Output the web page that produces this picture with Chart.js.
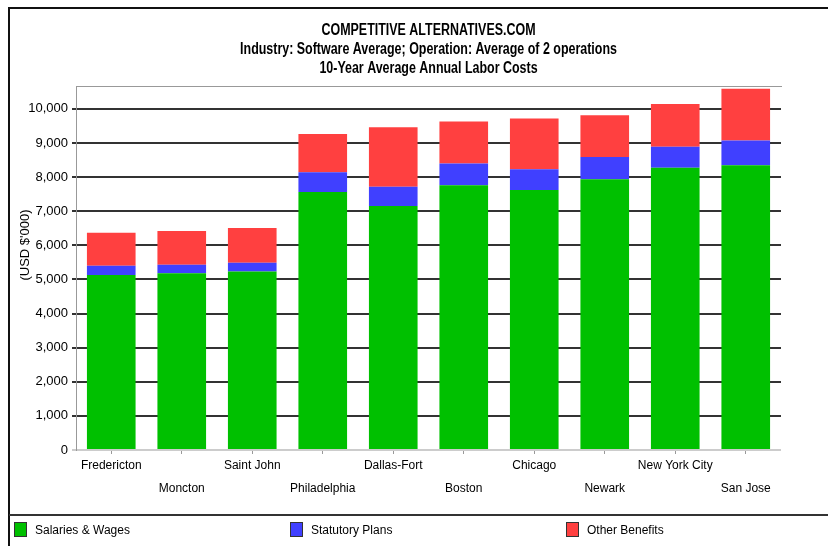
<!DOCTYPE html>
<html>
<head>
<meta charset="utf-8">
<title>Competitive Alternatives - Labor Costs</title>
<script src="https://cdn.jsdelivr.net/npm/chart.js@4.4.1/dist/chart.umd.min.js"></script>
<style>
  html, body { margin: 0; padding: 0; background: #fff; }
  #chart { display: block; }
</style>
</head>
<body>
<canvas id="chart" width="828" height="546"></canvas>
<script>
// dados do gráfico
const cities = ['Fredericton', 'Moncton', 'Saint John', 'Philadelphia', 'Dallas-Fort',
                'Boston', 'Chicago', 'Newark', 'New York City', 'San Jose'];
const salaries = [5130, 5180, 5230, 7560, 7150, 7760, 7620, 7940, 8270, 8350];
const statutory = [270, 250, 260, 580, 570, 640, 610, 650, 620, 720];
const otherBenefits = [970, 990, 1020, 1120, 1740, 1230, 1490, 1220, 1250, 1520];
const yTicks = [0, 1000, 2000, 3000, 4000, 5000, 6000, 7000, 8000, 9000, 10000];
const yMax = 10670;

const titleLines = [
    'COMPETITIVE ALTERNATIVES.COM',
    'Industry: Software Average; Operation: Average of 2 operations',
    '10-Year Average Annual Labor Costs'
];
const yTitle = "(USD $'000)";
const seriesNames = ['Salaries & Wages', 'Statutory Plans', 'Other Benefits'];
const seriesColors = ['#00c000', '#4040ff', '#ff4040'];

const sans = "'Liberation Sans', Arial, sans-serif";

// moldura, títulos e legenda desenhados à mão
const decorations = {
    id: 'decorations',
    afterDraw(chart) {
        const c = chart.ctx;
        const area = chart.chartArea;
        c.save();

        // moldura externa
        c.strokeStyle = '#111';
        c.lineWidth = 2;
        c.beginPath();
        c.moveTo(9, chart.height);
        c.lineTo(9, 8);
        c.lineTo(chart.width, 8);
        c.stroke();

        // borda superior da área do gráfico
        c.strokeStyle = '#999';
        c.lineWidth = 1;
        c.beginPath();
        c.moveTo(area.left, area.top + 0.5);
        c.lineTo(area.right + 1, area.top + 0.5);
        c.stroke();

        // títulos (fonte estreita simulada com escala horizontal)
        c.fillStyle = '#000';
        c.font = 'bold 16px ' + sans;
        c.textAlign = 'center';
        c.textBaseline = 'middle';
        const cx = (area.left + area.right) / 2;
        const sx = 214 / c.measureText(titleLines[0]).width;
        titleLines.forEach((t, i) => {
            c.save();
            c.translate(cx, 31 + i * 19);
            c.scale(sx, 1);
            c.fillText(t, 0, 0);
            c.restore();
        });

        // título do eixo y
        c.save();
        c.translate(25, 245);
        c.rotate(-Math.PI / 2);
        c.font = '13px ' + sans;
        c.fillText(yTitle, 0, 0);
        c.restore();

        // linha separadora da legenda
        c.strokeStyle = '#333';
        c.lineWidth = 2;
        c.beginPath();
        c.moveTo(9, 515);
        c.lineTo(chart.width, 515);
        c.stroke();

        // legenda
        c.font = '12px ' + sans;
        c.textAlign = 'left';
        const legendX = [14, 290, 566];
        seriesNames.forEach((name, i) => {
            c.fillStyle = seriesColors[i];
            c.fillRect(legendX[i], 522, 13, 15);
            c.strokeStyle = '#333';
            c.lineWidth = 1;
            c.strokeRect(legendX[i] + 0.5, 522.5, 12, 14);
            c.fillStyle = '#000';
            c.fillText(name, legendX[i] + 21, 531);
        });

        c.restore();
    }
};

new Chart(document.getElementById('chart'), {
    type: 'bar',
    data: {
        labels: cities,
        datasets: [
            { label: seriesNames[0], data: salaries, backgroundColor: seriesColors[0] },
            { label: seriesNames[1], data: statutory, backgroundColor: seriesColors[1] },
            { label: seriesNames[2], data: otherBenefits, backgroundColor: seriesColors[2] }
        ]
    },
    options: {
        responsive: false,
        animation: false,
        layout: { padding: { left: 0, top: 86, right: 47, bottom: 0 } },
        datasets: {
            bar: { categoryPercentage: 1, barPercentage: 0.69, borderWidth: 0 }
        },
        plugins: {
            legend: { display: false },
            title: { display: false },
            tooltip: { enabled: false }
        },
        scales: {
            x: {
                stacked: true,
                afterFit: scale => { scale.height = 96; },
                grid: { offset: false, drawOnChartArea: false, drawTicks: true, tickLength: 4, color: '#999' },
                border: { display: false },
                ticks: {
                    color: '#000',
                    padding: 0,
                    maxRotation: 0,
                    autoSkip: false,
                    font: { family: sans, size: 12, lineHeight: '23px' },
                    // rótulos alternados em duas linhas
                    callback: function (value, index) {
                        const name = cities[index];
                        return index % 2 === 0 ? name : ['', name];
                    }
                }
            },
            y: {
                stacked: true,
                min: 0,
                max: yMax,
                afterFit: scale => { scale.width = 76; },
                afterBuildTicks: scale => {
                    scale.ticks = yTicks.map(v => ({ value: v }));
                },
                grid: {
                    lineWidth: 2,
                    tickLength: 4,
                    color: ctx => (ctx.tick && ctx.tick.value === 0 ? '#ccc' : '#333')
                },
                border: { display: true, color: '#999', width: 1 },
                ticks: {
                    color: '#000',
                    padding: 4,
                    font: { family: sans, size: 13 },
                    callback: v => v.toLocaleString('en-US')
                }
            }
        }
    },
    plugins: [decorations]
});
</script>
</body>
</html>
